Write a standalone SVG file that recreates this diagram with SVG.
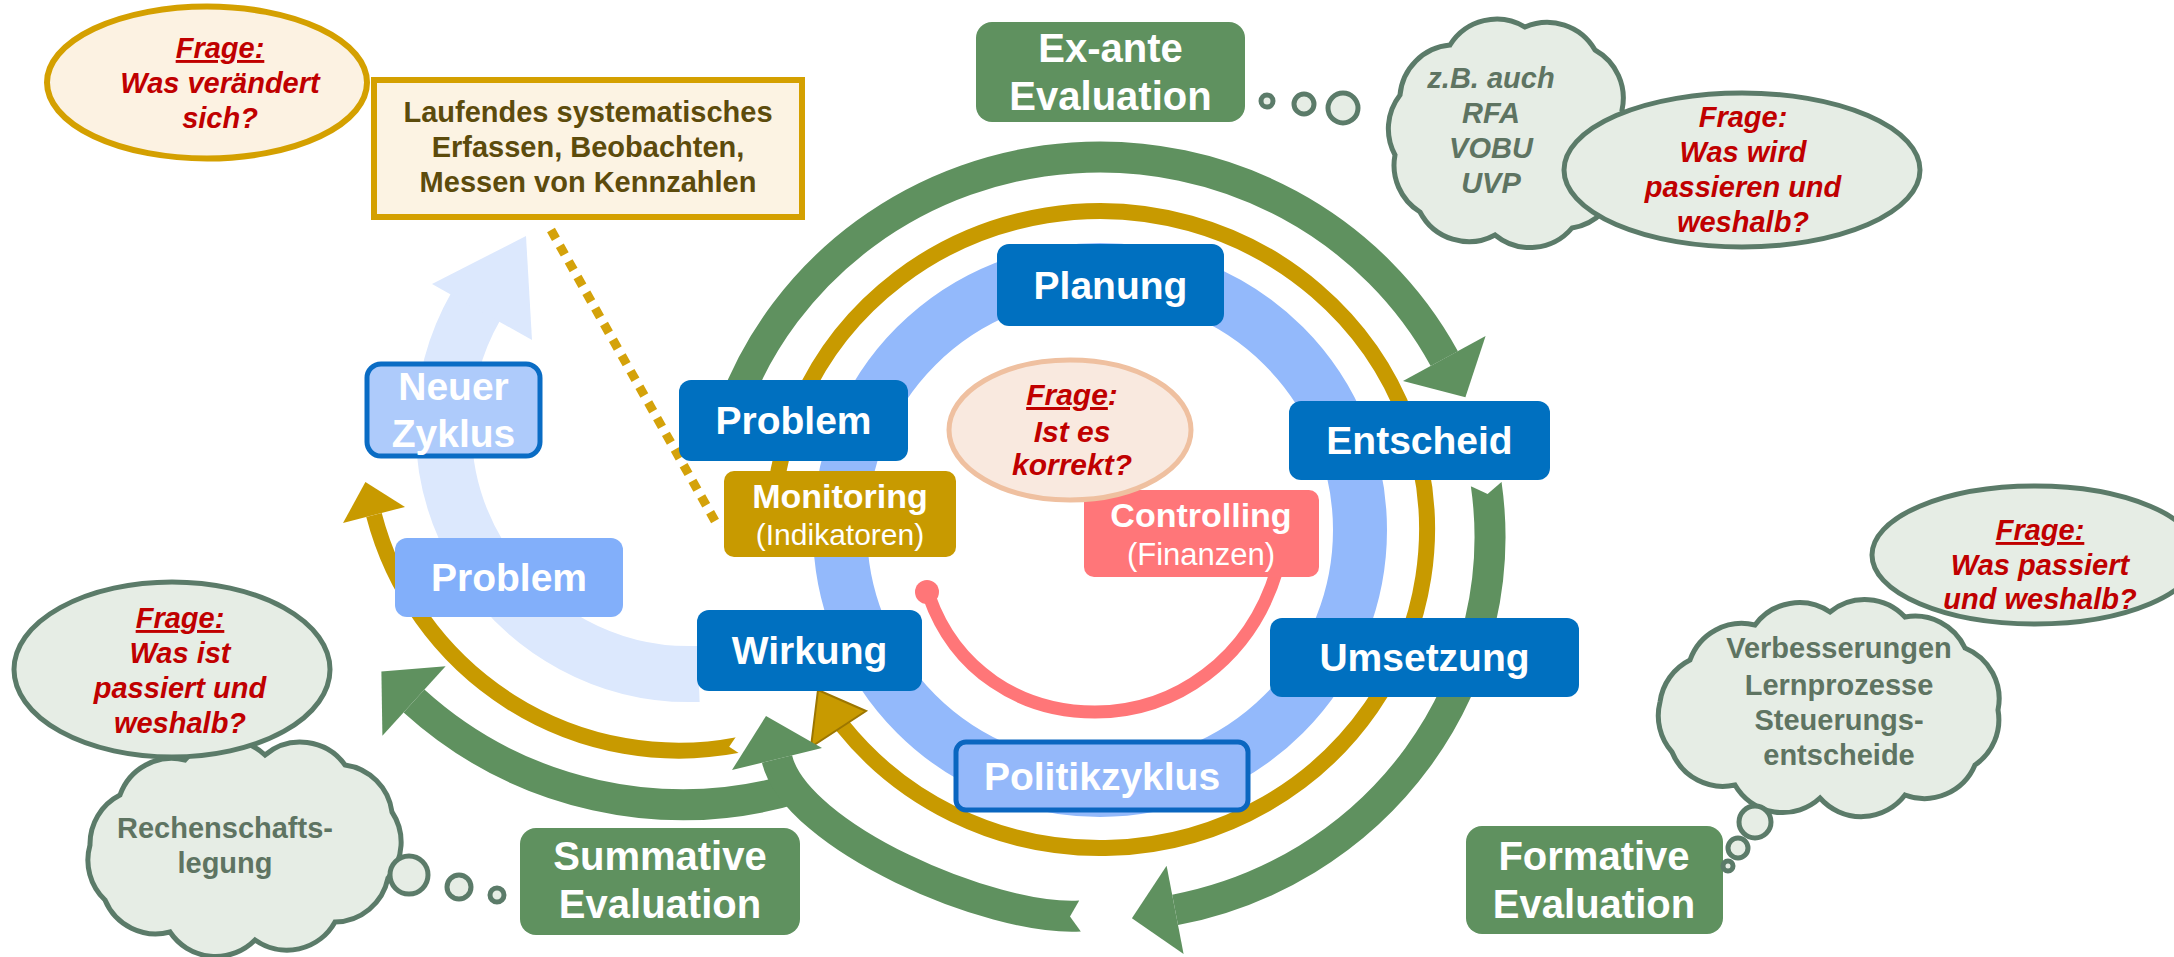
<svg xmlns="http://www.w3.org/2000/svg" width="2174" height="957" viewBox="0 0 2174 957">
<style>
text{font-family:"Liberation Sans",Arial,sans-serif;text-anchor:middle}
.lbl{font-weight:bold;fill:#fff;font-size:39px}
.ev{font-weight:bold;fill:#fff;font-size:40px}
.q{font-weight:bold;font-style:italic;fill:#c00000;font-size:29px}
.u{text-decoration:underline}
.ct{font-weight:bold;fill:#5e7462;font-size:29px}
.lf{font-weight:bold;fill:#5c4b0c;font-size:29px}
.blue{fill:#0070c0}
.green{fill:#5f915f}
.cloud{fill:#e6ede5;stroke:#5b7b69;stroke-width:5}
.gband{fill:none;stroke:#5f915f;stroke-width:31}
.gold{fill:none;stroke:#c89a00;stroke-width:16}
.white{fill:#fff}
</style>
<g id="connectors">
  <!-- pale new-cycle arc -->
  <path d="M 698.6 673.9 A 246 246 0 0 1 476 306" fill="none" stroke="#dce8fd" stroke-width="56"/>
  <polygon points="432,284 526,236 532,340" fill="#dce8fd"/>
  <!-- blue policy ring -->
  <circle cx="1100" cy="530" r="260" fill="none" stroke="#93b9fb" stroke-width="54"/>
  <!-- gold monitoring ring -->
  <path class="gold" d="M 773.2 540.6 A 327 318.5 0 1 1 842.3 725.6"/>
  <polygon points="866,711 818,690 811,747" fill="#c89a00" stroke="#9c7600" stroke-width="2"/>
  <!-- gold arrow to new cycle -->
  <path class="gold" d="M 738 745 A 315 315 0 0 1 374 515"/>
  <polygon class="white" points="740.9,754.6 729.2,746.7 737.1,735"/>
  <polygon points="405,506.9 365.4,482.1 343,523.1" fill="#c89a00"/>
  <!-- green ex-ante -->
  <path class="gband" d="M 733.5 407 A 390 380 0 0 1 1444.3 358.6"/>
  <polygon class="green" points="1485.6,336.1 1465.4,397.2 1403,381.1"/>
  <!-- green formative -->
  <path class="gband" d="M 1486.2 484.1 A 390 380 0 0 1 1175.1 909.9"/>
  <polygon class="white" points="1502.9,480.7 1487.6,494 1469.3,485.5"/>
  <polygon class="green" points="1183.6,954.1 1131.9,918.2 1166.6,865.7"/>
  <!-- green summative branch to new cycle -->
  <path class="gband" d="M 800 787 A 400 400 0 0 1 414 701"/>
  <polygon class="green" points="382.4,735.8 381.4,671.5 445.6,666.2"/>
  <!-- green summative -->
  <path class="gband" d="M 1080 916 C 990 921 796 836.7 777 759"/>
  <polygon class="white" points="1081.9,933 1070,916.6 1080.1,899"/>
  <polygon class="green" points="732,770 766,716 822,748"/>
  <!-- controlling loop -->
  <path d="M 929 596 C 955 670 1020 712 1095 712 C 1175 712 1250 660 1277 570" fill="none" stroke="#ff7678" stroke-width="13"/>
  <circle cx="927" cy="592" r="12" fill="#ff7678"/>
  <!-- dotted monitoring link -->
  <path d="M 551 230 L 719 528" stroke="#d4a20a" stroke-width="9" stroke-dasharray="10 8"/>
</g>

<g id="planung"><rect class="blue" x="997" y="244" width="227" height="82" rx="12"/><text class="lbl" x="1110.5" y="299">Planung</text></g>
<g id="problem"><rect class="blue" x="679" y="380" width="229" height="81" rx="12"/><text class="lbl" x="793.5" y="434">Problem</text></g>
<g id="entscheid"><rect class="blue" x="1289" y="401" width="261" height="79" rx="12"/><text class="lbl" x="1419.5" y="454">Entscheid</text></g>
<g id="umsetzung"><rect class="blue" x="1270" y="618" width="309" height="79" rx="12"/><text class="lbl" x="1424.5" y="671">Umsetzung</text></g>
<g id="wirkung"><rect class="blue" x="697" y="610" width="225" height="81" rx="12"/><text class="lbl" x="809.5" y="664">Wirkung</text></g>
<g id="politikzyklus"><rect x="956" y="742" width="292" height="68" rx="10" fill="#94b8fa" stroke="#0a66c0" stroke-width="5"/><text class="lbl" x="1102" y="790">Politikzyklus</text></g>
<g id="problem2"><rect x="395" y="538" width="228" height="79" rx="12" fill="#82affa"/><text class="lbl" x="509" y="591">Problem</text></g>
<g id="neuer-zyklus"><rect x="367" y="364" width="173" height="92" rx="14" fill="#aecbfb" stroke="#0a6cc4" stroke-width="5"/><text class="lbl" x="453.5" y="400">Neuer</text><text class="lbl" x="453.5" y="447">Zyklus</text></g>
<g id="monitoring"><rect x="724" y="471" width="232" height="86" rx="10" fill="#c89a00"/><text x="840" y="508" style="font-weight:bold;fill:#fff;font-size:34px">Monitoring</text><text x="840" y="545" style="fill:#fff;font-size:30px">(Indikatoren)</text></g>
<g id="controlling"><rect x="1084" y="490" width="235" height="87" rx="10" fill="#ff7679"/><text x="1201" y="527" style="font-weight:bold;fill:#fff;font-size:34px">Controlling</text><text x="1201" y="565" style="fill:#fff;font-size:31px">(Finanzen)</text></g>

<g id="frage-korrekt"><ellipse cx="1070" cy="430" rx="121" ry="70" fill="#f9e9df" stroke="#efc0a0" stroke-width="5"/><text class="q" x="1072" y="405" style="font-size:30px"><tspan class="u">Frage</tspan>:</text><text class="q" x="1072" y="442" style="font-size:30px">Ist es</text><text class="q" x="1072" y="475" style="font-size:30px">korrekt?</text></g>

<g id="exante"><rect class="green" x="976" y="22" width="269" height="100" rx="16"/><text class="ev" x="1110.5" y="62">Ex-ante</text><text class="ev" x="1110.5" y="110">Evaluation</text></g>
<g id="summative"><rect class="green" x="520" y="828" width="280" height="107" rx="16"/><text class="ev" x="660" y="870">Summative</text><text class="ev" x="660" y="918">Evaluation</text></g>
<g id="formative"><rect class="green" x="1466" y="826" width="257" height="108" rx="16"/><text class="ev" x="1594" y="870">Formative</text><text class="ev" x="1594" y="918">Evaluation</text></g>

<g id="frage-veraendert"><ellipse cx="207" cy="82.5" rx="160" ry="76" fill="#fcf2e2" stroke="#d4a000" stroke-width="6"/><text class="q" x="220" y="58"><tspan class="u">Frage:</tspan></text><text class="q" x="220" y="93">Was verändert</text><text class="q" x="220" y="128">sich?</text></g>
<g id="laufendes"><rect x="374" y="80" width="428" height="137" fill="#fcf3e3" stroke="#d4a000" stroke-width="6"/><text class="lf" x="588" y="122">Laufendes systematisches</text><text class="lf" x="588" y="157">Erfassen, Beobachten,</text><text class="lf" x="588" y="192">Messen von Kennzahlen</text></g>

<g id="cloud-exante">
  <circle class="cloud" cx="1267" cy="101" r="6"/>
  <circle class="cloud" cx="1304" cy="104" r="10"/>
  <circle class="cloud" cx="1343" cy="108" r="15"/>
  <path class="cloud" d="M 1400 95 A 55 55 0 0 1 1450 45 A 55 55 0 0 1 1525 27 A 55 55 0 0 1 1595 50 A 55 55 0 0 1 1622 110 A 55 55 0 0 1 1618 180 A 55 55 0 0 1 1572 228 A 55 55 0 0 1 1495 235 A 55 55 0 0 1 1420 212 A 55 55 0 0 1 1395 155 A 55 55 0 0 1 1400 95 Z"/>
  <text class="ct" x="1491" y="88" style="font-style:italic">z.B. auch</text>
  <text class="ct" x="1491" y="123" style="font-style:italic">RFA</text>
  <text class="ct" x="1491" y="158" style="font-style:italic">VOBU</text>
  <text class="ct" x="1491" y="193" style="font-style:italic">UVP</text>
</g>
<g id="frage-passieren"><ellipse cx="1742" cy="170" rx="178" ry="77" fill="#e6ede5" stroke="#5b7b69" stroke-width="5"/><text class="q" x="1743" y="127">Frage:</text><text class="q" x="1743" y="162">Was wird</text><text class="q" x="1743" y="197">passieren und</text><text class="q" x="1743" y="232">weshalb?</text></g>

<g id="cloud-summative">
  <path class="cloud" d="M 120 795 A 55 55 0 0 1 185 760 A 55 55 0 0 1 265 755 A 55 55 0 0 1 345 765 A 55 55 0 0 1 392 812 A 55 55 0 0 1 388 878 A 55 55 0 0 1 335 922 A 55 55 0 0 1 255 940 A 55 55 0 0 1 170 932 A 55 55 0 0 1 105 900 A 55 55 0 0 1 90 845 A 55 55 0 0 1 120 795 Z"/>
  <circle class="cloud" cx="409" cy="875" r="19"/>
  <circle class="cloud" cx="459" cy="887" r="12"/>
  <circle class="cloud" cx="497" cy="895" r="7"/>
  <text class="ct" x="225" y="838">Rechenschafts-</text>
  <text class="ct" x="225" y="873">legung</text>
</g>
<g id="frage-passiert"><ellipse cx="172" cy="669.5" rx="158" ry="87.5" fill="#e6ede5" stroke="#5b7b69" stroke-width="5"/><text class="q" x="180" y="628"><tspan class="u">Frage:</tspan></text><text class="q" x="180" y="663">Was ist</text><text class="q" x="180" y="698">passiert und</text><text class="q" x="180" y="733">weshalb?</text></g>

<g id="cloud-formative">
  <path class="cloud" d="M 1690 660 A 55 55 0 0 1 1755 625 A 55 55 0 0 1 1830 612 A 55 55 0 0 1 1905 617 A 55 55 0 0 1 1965 648 A 55 55 0 0 1 1998 710 A 55 55 0 0 1 1975 765 A 55 55 0 0 1 1905 795 A 55 55 0 0 1 1820 798 A 55 55 0 0 1 1735 785 A 55 55 0 0 1 1672 752 A 55 55 0 0 1 1660 702 A 55 55 0 0 1 1690 660 Z"/>
  <circle class="cloud" cx="1755" cy="822" r="16"/>
  <circle class="cloud" cx="1738" cy="848" r="10"/>
  <circle class="cloud" cx="1728" cy="866" r="5"/>
  <text class="ct" x="1839" y="658">Verbesserungen</text>
  <text class="ct" x="1839" y="695">Lernprozesse</text>
  <text class="ct" x="1839" y="730">Steuerungs-</text>
  <text class="ct" x="1839" y="765">entscheide</text>
</g>
<g id="frage-passiert2"><ellipse cx="2035" cy="555" rx="163" ry="69" fill="#e6ede5" stroke="#5b7b69" stroke-width="5"/><text class="q" x="2040" y="540"><tspan class="u">Frage:</tspan></text><text class="q" x="2040" y="575">Was passiert</text><text class="q" x="2040" y="609">und weshalb?</text></g>
</svg>
